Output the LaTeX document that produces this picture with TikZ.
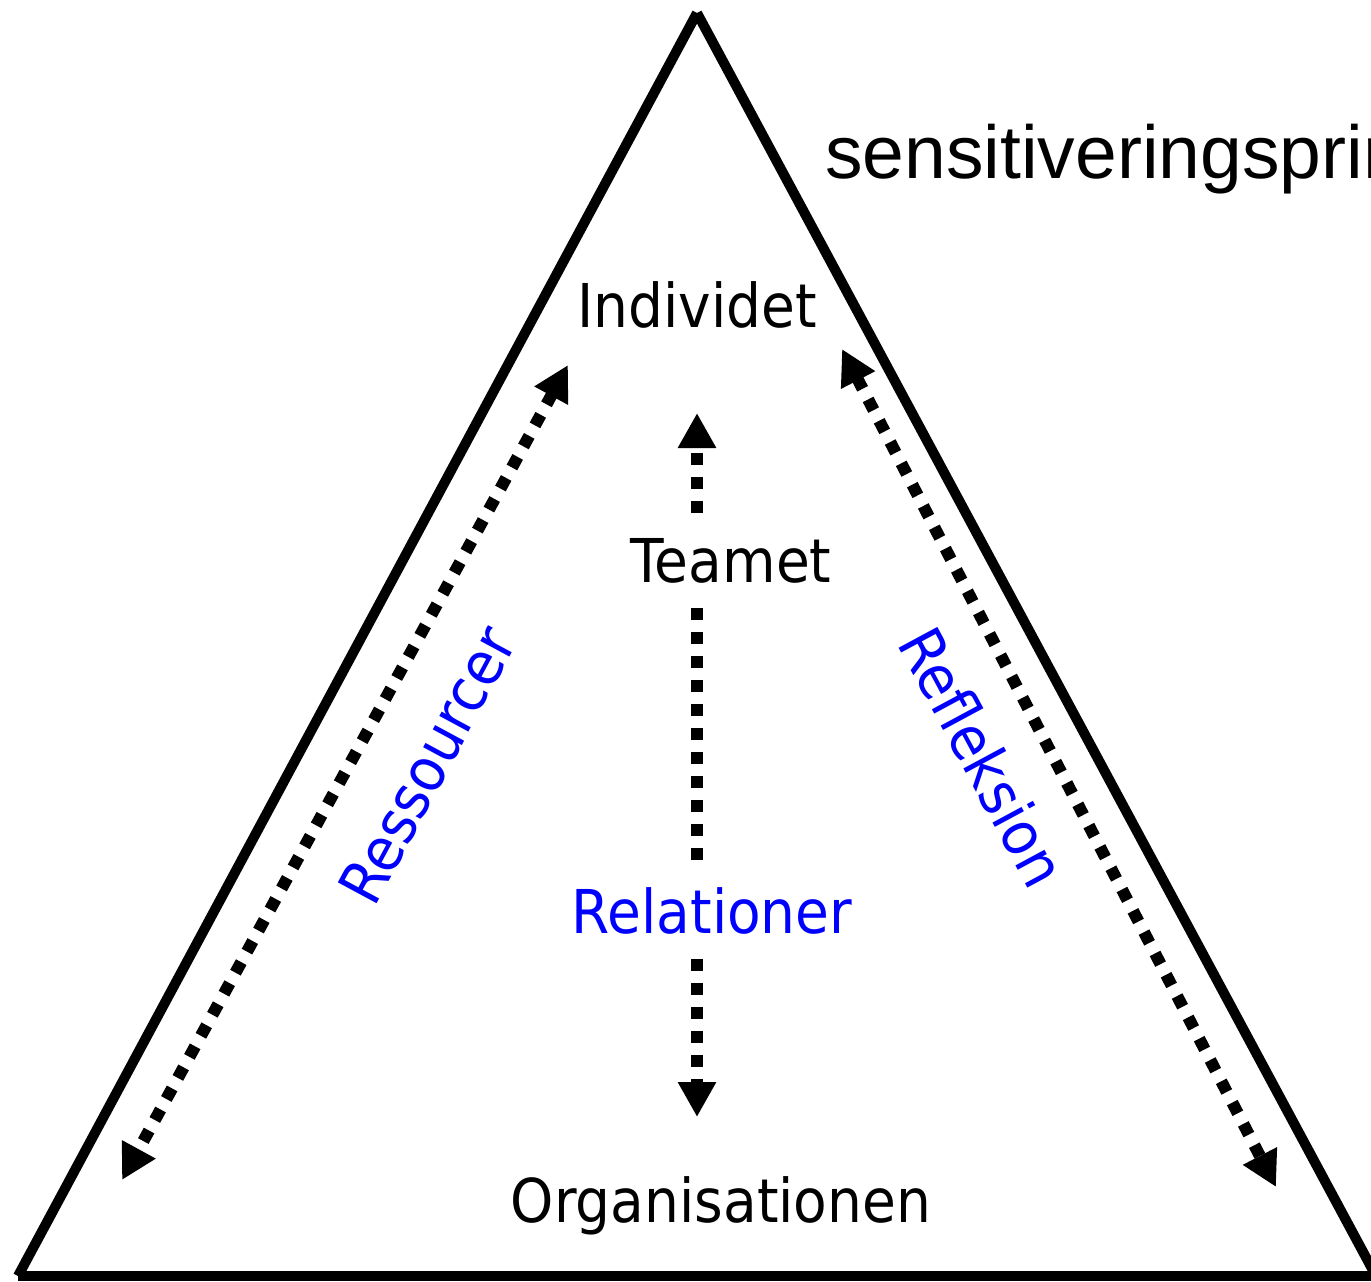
\documentclass[tikz,border=0pt]{standalone}
\usepackage{fontspec}
\setmainfont{DejaVu Sans}[FakeStretch=0.91]
\newfontfamily\arialfont{Liberation Sans}
\usepackage{xcolor}
\usetikzlibrary{positioning,arrows.meta}

\begin{document}
\begin{tikzpicture}[x=0.02cm, y=-0.02cm, >={Triangle[length=0.7cm,width=0.72cm]},
    side/.style={line width=0.2cm},
    dotarrow/.style={line width=0.24cm, dash pattern=on 0.24cm off 0.24cm},
    lbl/.style={font=\fontsize{34.4}{40}\selectfont, inner sep=0.5cm}]
    \useasboundingbox (0,0) rectangle (1371,1281);
    \clip (0,0) rectangle (1371,1281);
    % triangle
    \coordinate (apex) at (697,13);
    \coordinate (bl) at (18,1276);
    \coordinate (br) at (1376,1276);
    \draw[side] (apex) -- (bl);
    \draw[side] (apex) -- (br);
    \draw[side] (bl) -- (br);
    % labels
    \node[lbl, anchor=base] (individet) at (697,327) {Individet};
    \node[lbl, anchor=base] (teamet) at (731,582) {Teamet};
    \node[lbl, text=blue, anchor=base] (relationer) at (712,933) {Relationer};
    \node[lbl, anchor=base] (organisationen) at (721,1222) {Organisationen};
    \node[lbl, text=blue, rotate=61.7] (ressourcer) at (427,765) {Ressourcer};
    \node[lbl, text=blue, rotate=-61.7] (refleksion) at (983,757) {Refleksion};
    \node[font=\arialfont\fontsize{42.7}{50}\selectfont, anchor=base west, inner sep=0pt] (princip) at (825,178) {sensitiveringsprincipper};
    % arrows
    \coordinate (lt) at (568,365);
    \coordinate (lb) at (122,1180);
    \draw[dotarrow,<->] (lt) -- (lb);
    \coordinate (rt) at (842,349);
    \coordinate (rb) at (1276,1187);
    \draw[dotarrow,<->] (rt) -- (rb);
    \coordinate (ct) at (697,413);
    \coordinate (cb) at (697,1117);
    \draw[dotarrow,->] (ct |- teamet.north) -- (ct);
    \draw[dotarrow] (ct |- teamet.south) -- (ct |- relationer.north);
    \draw[dotarrow,->] (ct |- relationer.south) -- (cb);
\end{tikzpicture}
\end{document}
